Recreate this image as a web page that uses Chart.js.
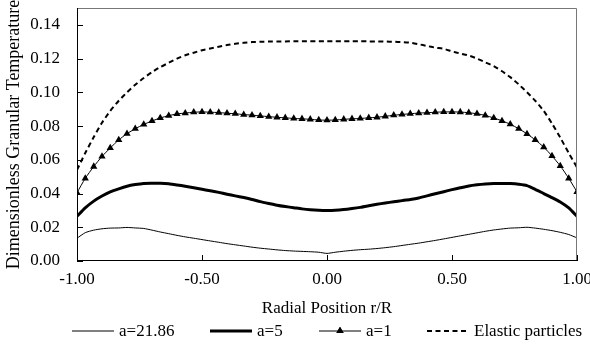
<!DOCTYPE html>
<html>
<head>
<meta charset="utf-8">
<script src="https://cdn.jsdelivr.net/npm/chart.js@4.4.1/dist/chart.umd.min.js"></script>
<style>
  html, body { margin: 0; padding: 0; background: #fff; }
  #wrap { width: 590px; height: 347px; }
</style>
</head>
<body>
<div id="wrap"><canvas id="chartTemp" width="590" height="347"></canvas></div>
<script>
// radial position r/R (x values shared by all series)
var radialPos = [
    -1.000, -0.967, -0.933, -0.900, -0.867, -0.833, -0.800, -0.767, -0.733, -0.700,
    -0.667, -0.633, -0.600, -0.567, -0.533, -0.500, -0.467, -0.433, -0.400, -0.367,
    -0.333, -0.300, -0.267, -0.233, -0.200, -0.167, -0.133, -0.100, -0.067, -0.033,
    0.000,
    0.033, 0.067, 0.100, 0.133, 0.167, 0.200, 0.233, 0.267, 0.300, 0.333,
    0.367, 0.400, 0.433, 0.467, 0.500, 0.533, 0.567, 0.600, 0.633, 0.667,
    0.700, 0.733, 0.767, 0.800, 0.833, 0.867, 0.900, 0.933, 0.967, 1.000
];

var seriesNames = ["a=21.86", "a=5", "a=1", "Elastic particles"];

var tempA21 = [
    0.0135, 0.0168, 0.0183, 0.0191, 0.0195, 0.0196, 0.0199, 0.0196, 0.0193, 0.0183,
    0.0172, 0.0162, 0.0152, 0.0143, 0.0135, 0.0127, 0.0119, 0.0111, 0.0103, 0.0096,
    0.0089, 0.0082, 0.0076, 0.0071, 0.0066, 0.0062, 0.0059, 0.0057, 0.0055, 0.0052,
    0.0045,
    0.0052, 0.0058, 0.0063, 0.0067, 0.0070, 0.0074, 0.0079, 0.0085, 0.0092, 0.0099,
    0.0106, 0.0114, 0.0122, 0.0131, 0.0140, 0.0149, 0.0158, 0.0167, 0.0176, 0.0184,
    0.0190, 0.0195, 0.0197, 0.0200, 0.0195, 0.0188, 0.0180, 0.0170, 0.0157, 0.0137
];

var tempA5 = [
    0.0265, 0.0315, 0.0355, 0.0385, 0.0410, 0.0428, 0.0443, 0.0453, 0.0460, 0.0461,
    0.0461, 0.0458, 0.0451, 0.0443, 0.0434, 0.0425, 0.0417, 0.0407, 0.0396, 0.0386,
    0.0376, 0.0365, 0.0352, 0.0341, 0.0331, 0.0323, 0.0316, 0.0309, 0.0304, 0.0301,
    0.0300,
    0.0301, 0.0305, 0.0311, 0.0318, 0.0327, 0.0336, 0.0344, 0.0351, 0.0358, 0.0365,
    0.0374, 0.0386, 0.0399, 0.0411, 0.0423, 0.0434, 0.0445, 0.0452, 0.0457, 0.0460,
    0.0460, 0.0459, 0.0455, 0.0447, 0.0425, 0.0400, 0.0376, 0.0350, 0.0315, 0.0265
];

var tempA1 = [
    0.0405, 0.0490, 0.0560, 0.0620, 0.0670, 0.0718, 0.0755, 0.0784, 0.0810, 0.0830,
    0.0848, 0.0862, 0.0872, 0.0877, 0.0882, 0.0884, 0.0882, 0.0880, 0.0876, 0.0873,
    0.0868, 0.0865, 0.0860, 0.0856, 0.0852, 0.0849, 0.0845, 0.0843, 0.0840, 0.0836,
    0.0835,
    0.0836, 0.0840, 0.0843, 0.0845, 0.0849, 0.0852, 0.0858, 0.0864, 0.0869, 0.0873,
    0.0877, 0.0879, 0.0882, 0.0884, 0.0884, 0.0883, 0.0879, 0.0873, 0.0863, 0.0848,
    0.0831, 0.0811, 0.0784, 0.0754, 0.0718, 0.0675, 0.0623, 0.0564, 0.0490, 0.0410
];

var tempElastic = [
    0.0540, 0.0640, 0.0735, 0.0820, 0.0890, 0.0950, 0.1000, 0.1045, 0.1085, 0.1120,
    0.1150, 0.1175, 0.1200, 0.1220, 0.1235, 0.1250, 0.1260, 0.1270, 0.1280, 0.1288,
    0.1294, 0.1298, 0.1300, 0.1301, 0.1302, 0.1302, 0.1303, 0.1303, 0.1303, 0.1303,
    0.1303,
    0.1303, 0.1303, 0.1303, 0.1303, 0.1302, 0.1302, 0.1301, 0.1300, 0.1298, 0.1294,
    0.1285, 0.1275, 0.1265, 0.1258, 0.1243, 0.1230, 0.1218, 0.1200, 0.1178, 0.1155,
    0.1125, 0.1090, 0.1047, 0.1000, 0.0950, 0.0890, 0.0815, 0.0732, 0.0640, 0.0555
];

// axis ticks
var yTicks = [0.00, 0.02, 0.04, 0.06, 0.08, 0.10, 0.12, 0.14];
var xTicks = [-1.0, -0.5, 0.0, 0.5, 1.0];

document.addEventListener("DOMContentLoaded", function () {
    var serif = "'Liberation Serif', 'Times New Roman', serif";

    function pts(values) {
        return values.map(function (v, i) { return { x: radialPos[i], y: v }; });
    }

    // frame with inward tick marks
    var framePlugin = {
        id: "frame",
        afterDatasetsDraw: function (chart) {
            var ctx = chart.ctx, a = chart.chartArea;
            var xs = chart.scales.x, ys = chart.scales.y;
            ctx.save();
            ctx.lineWidth = 1;
            ctx.strokeStyle = "#777";
            ctx.beginPath();
            ctx.moveTo(a.left, a.top + 0.5);
            ctx.lineTo(a.right - 0.5, a.top + 0.5);
            ctx.lineTo(a.right - 0.5, a.bottom);
            ctx.stroke();
            ctx.strokeStyle = "#000";
            ctx.beginPath();
            ctx.moveTo(a.left + 0.5, a.top);
            ctx.lineTo(a.left + 0.5, a.bottom - 0.5);
            ctx.lineTo(a.right, a.bottom - 0.5);
            ctx.stroke();
            ctx.beginPath();
            ys.ticks.forEach(function (t) {
                var y = Math.round(ys.getPixelForValue(t.value)) + 0.5;
                ctx.moveTo(a.left, y);
                ctx.lineTo(a.left + 6, y);
            });
            xs.ticks.forEach(function (t) {
                var x = Math.round(xs.getPixelForValue(t.value)) + 0.5;
                ctx.moveTo(x, a.bottom);
                ctx.lineTo(x, a.bottom - 6);
            });
            ctx.stroke();
            ctx.restore();
        }
    };

    // legend under the x title: line sample + marker + label
    var legendPlugin = {
        id: "sampleLegend",
        afterDraw: function (chart) {
            var ctx = chart.ctx;
            var starts = [72, 210, 319, 427];
            var y = 331;
            ctx.save();
            chart.data.datasets.forEach(function (ds, i) {
                var x0 = starts[i], x1 = x0 + 42;
                ctx.strokeStyle = "#000";
                ctx.lineWidth = ds.borderWidth;
                ctx.setLineDash(ds.borderDash || []);
                ctx.beginPath();
                ctx.moveTo(x0, y);
                ctx.lineTo(x1, y);
                ctx.stroke();
                ctx.setLineDash([]);
                if (ds.pointRadius > 0) {
                    Chart.helpers.drawPoint(ctx, {
                        pointStyle: ds.pointStyle,
                        radius: ds.pointRadius,
                        borderWidth: 0
                    }, (x0 + x1) / 2, y);
                    ctx.fillStyle = "#000";
                    ctx.fill();
                }
                ctx.fillStyle = "#000";
                ctx.font = "17px " + serif;
                ctx.textAlign = "left";
                ctx.textBaseline = "middle";
                ctx.fillText(ds.label, x1 + 5, y + 1);
            });
            ctx.restore();
        }
    };

    new Chart(document.getElementById("chartTemp"), {
        type: "line",
        data: {
            datasets: [
                {
                    label: seriesNames[0],
                    data: pts(tempA21),
                    borderColor: "#000",
                    borderWidth: 1,
                    pointRadius: 0,
                    tension: 0.2
                },
                {
                    label: seriesNames[1],
                    data: pts(tempA5),
                    borderColor: "#000",
                    borderWidth: 3,
                    pointRadius: 0,
                    tension: 0.2
                },
                {
                    label: seriesNames[2],
                    data: pts(tempA1),
                    borderColor: "#000",
                    borderWidth: 1,
                    pointStyle: "triangle",
                    pointRadius: 4.2,
                    pointBackgroundColor: "#000",
                    pointBorderColor: "#000",
                    pointBorderWidth: 0,
                    tension: 0.2
                },
                {
                    label: seriesNames[3],
                    data: pts(tempElastic),
                    borderColor: "#000",
                    borderWidth: 2,
                    borderDash: [5, 3.5],
                    pointRadius: 0,
                    tension: 0.2
                }
            ]
        },
        options: {
            responsive: false,
            animation: false,
            layout: { padding: { left: 0, right: 13, top: 8, bottom: 26 } },
            plugins: {
                legend: { display: false },
                tooltip: { enabled: false }
            },
            scales: {
                x: {
                    type: "linear",
                    min: -1,
                    max: 1,
                    grid: { display: false },
                    border: { display: false },
                    ticks: {
                        padding: 0,
                        maxRotation: 0,
                        color: "#000",
                        font: { family: serif, size: 17 },
                        callback: function (v) { return Number(v).toFixed(2); }
                    },
                    afterBuildTicks: function (s) {
                        s.ticks = xTicks.map(function (v) { return { value: v }; });
                    },
                    title: {
                        display: true,
                        text: "Radial Position r/R",
                        color: "#000",
                        font: { family: serif, size: 17 },
                        padding: { top: 0, bottom: 2 }
                    },
                    afterFit: function (s) {
                        s.height = 60;
                        s.paddingLeft = 0;
                        s.paddingRight = 0;
                    }
                },
                y: {
                    min: 0,
                    max: 0.15,
                    grid: { display: false },
                    border: { display: false },
                    ticks: {
                        padding: 9,
                        color: "#000",
                        font: { family: serif, size: 17 },
                        callback: function (v) { return Number(v).toFixed(2); }
                    },
                    afterBuildTicks: function (s) {
                        s.ticks = yTicks.map(function (v) { return { value: v }; });
                    },
                    title: {
                        display: true,
                        text: "Dimensionless Granular Temperature",
                        color: "#000",
                        font: { family: serif, size: 18 },
                        padding: { top: 3, bottom: 0 }
                    },
                    afterFit: function (s) {
                        s.width = 77;
                        s.paddingTop = 0;
                        s.paddingBottom = 0;
                    }
                }
            }
        },
        plugins: [framePlugin, legendPlugin]
    });
});
</script>
</body>
</html>
